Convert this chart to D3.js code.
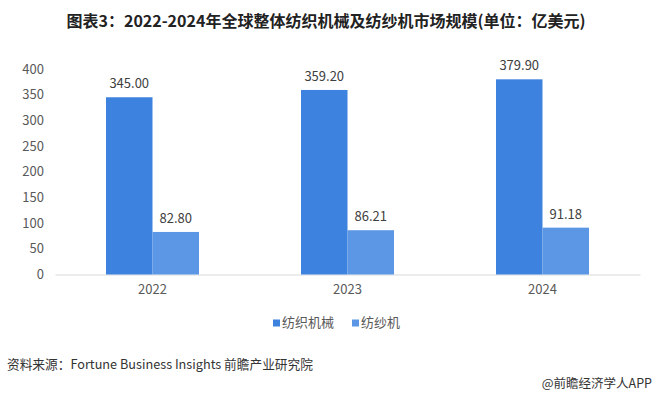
<!DOCTYPE html>
<html>
<head>
<meta charset="utf-8">
<script src="https://cdn.jsdelivr.net/npm/d3@7"></script>
<style>
  body { margin: 0; background: #fff; }
  svg text { font-family: "Noto Sans CJK SC", "Noto Sans", sans-serif; }
</style>
</head>
<body>
<script>
var width = 657,
    height = 396;

// data
var years = ["2022", "2023", "2024"];
var seriesNames = ["纺织机械", "纺纱机"];
var textileMachinery = [345.00, 359.20, 379.90];
var spinningMachinery = [82.80, 86.21, 91.18];
var yTicks = [0, 50, 100, 150, 200, 250, 300, 350, 400];

var colors = ["#3d82de", "#5b97e4"];

var svg = d3.select("body").append("svg")
    .attr("width", width)
    .attr("height", height);

// title
svg.append("text")
    .attr("x", 326)
    .attr("y", 27)
    .attr("text-anchor", "middle")
    .style("font-size", "16px")
    .style("font-weight", "bold")
    .style("fill", "#222")
    .text("图表3：2022-2024年全球整体纺织机械及纺纱机市场规模(单位：亿美元)");

var x0 = d3.scaleBand()
    .domain(years)
    .range([55, 640]);

var x1 = d3.scaleBand()
    .domain(seriesNames)
    .range([x0.bandwidth() / 2 - 46.5, x0.bandwidth() / 2 + 46.5]);

var y = d3.scaleLinear()
    .domain([0, 400])
    .range([274.5, 69]);

// y axis labels
var yAxis = svg.append("g")
    .attr("transform", "translate(48,0)")
    .call(d3.axisLeft(y).tickValues(yTicks).tickSize(0).tickPadding(4));
yAxis.select(".domain").remove();
yAxis.selectAll("text")
    .style("font-size", "13px")
    .style("fill", "#595959")
    .style("font-family", "\"Noto Sans CJK SC\", sans-serif");

// baseline + x labels
var xAxis = svg.append("g")
    .attr("transform", "translate(0," + y(0) + ")")
    .call(d3.axisBottom(x0).tickSize(0).tickPadding(10));
xAxis.select(".domain").attr("stroke", "#d9d9d9").attr("stroke-width", 1);
xAxis.selectAll("text")
    .style("font-size", "13px")
    .style("fill", "#595959")
    .style("font-family", "\"Noto Sans CJK SC\", sans-serif");

var rows = years.map(function (yr, i) {
    return [
        { year: yr, name: seriesNames[0], value: textileMachinery[i] },
        { year: yr, name: seriesNames[1], value: spinningMachinery[i] }
    ];
});

var groups = svg.append("g").selectAll("g")
    .data(rows)
    .enter()
    .append("g")
    .attr("transform", function (d) { return "translate(" + x0(d[0].year) + ",0)"; });

groups.selectAll("rect")
    .data(function (d) { return d; })
    .enter()
    .append("rect")
    .attr("x", function (d) { return x1(d.name); })
    .attr("y", function (d) { return y(d.value); })
    .attr("width", x1.bandwidth())
    .attr("height", function (d) { return y(0) - y(d.value); })
    .attr("fill", function (d, i) { return colors[i]; });

groups.selectAll("text")
    .data(function (d) { return d; })
    .enter()
    .append("text")
    .attr("x", function (d) { return x1(d.name) + x1.bandwidth() / 2; })
    .attr("y", function (d) { return y(d.value) - 9; })
    .attr("text-anchor", "middle")
    .style("font-size", "13px")
    .style("fill", "#404040")
    .text(function (d) { return d.value.toFixed(2); });

// legend
var legendX = [273, 352];
var legend = svg.append("g").selectAll("g")
    .data(seriesNames)
    .enter()
    .append("g")
    .attr("transform", function (d, i) { return "translate(" + legendX[i] + ",323)"; });

legend.append("rect")
    .attr("x", 0)
    .attr("y", -3.5)
    .attr("width", 7)
    .attr("height", 7)
    .attr("fill", function (d, i) { return colors[i]; });

legend.append("text")
    .attr("x", 9)
    .attr("y", 0)
    .attr("dominant-baseline", "middle")
    .style("font-size", "13px")
    .style("fill", "#595959")
    .text(function (d) { return d; });

// footer
svg.append("text")
    .attr("x", 7)
    .attr("y", 369)
    .style("font-size", "12.7px")
    .style("fill", "#333")
    .text("资料来源：Fortune Business Insights 前瞻产业研究院");

svg.append("text")
    .attr("x", 652)
    .attr("y", 388)
    .attr("text-anchor", "end")
    .style("font-size", "12.5px")
    .style("fill", "#333")
    .text("@前瞻经济学人APP");
</script>
</body>
</html>
